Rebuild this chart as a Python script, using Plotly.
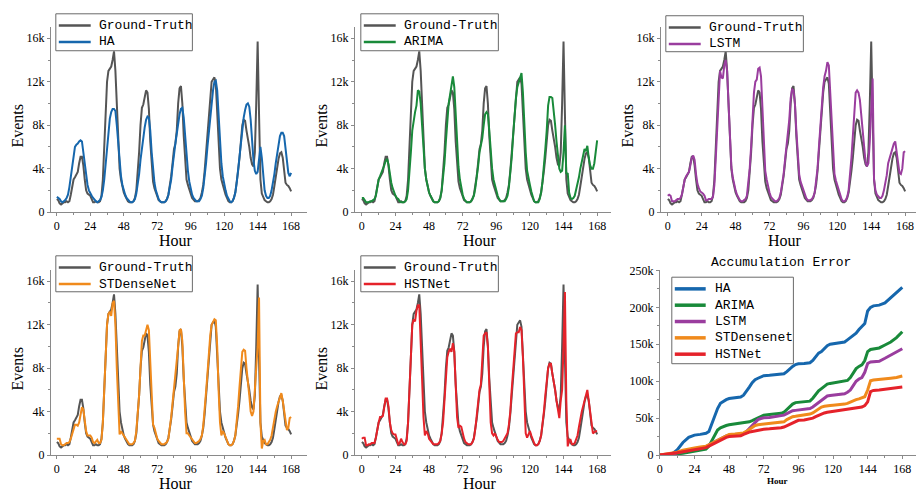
import plotly.graph_objects as go

hours = list(range(169))

ground_truth = [1.2,1.1,0.8,0.7,0.8,0.9,0.9,1.0,0.9,1.0,1.6,2.3,3.0,3.2,3.4,3.7,4.5,5.1,5.1,4.3,
3.0,2.0,1.7,1.6,1.5,1.2,0.9,0.9,1.0,0.9,0.9,1.0,1.5,3.0,6.0,9.5,12.0,13.0,13.2,13.4,
14.0,14.8,13.0,9.5,6.0,4.0,3.0,2.3,1.8,1.5,1.2,1.0,0.9,0.9,0.9,1.0,1.3,2.0,3.5,5.5,
8.0,9.6,9.9,10.5,11.2,11.0,9.5,6.5,4.0,2.8,2.2,1.8,1.4,1.1,1.0,0.9,0.9,0.9,1.0,1.2,
1.6,2.3,3.3,4.5,5.8,6.3,7.5,10.0,11.4,11.6,10.0,7.0,4.5,3.0,2.5,2.0,1.7,1.3,1.1,1.0,
1.0,1.0,1.1,1.3,1.8,2.5,3.8,5.5,7.5,9.5,11.0,12.0,12.2,12.4,11.8,9.5,6.5,4.0,3.0,2.5,
2.0,1.6,1.3,1.0,0.9,0.9,1.0,1.3,1.8,2.7,3.8,5.0,6.5,8.0,8.5,8.4,7.5,6.8,6.0,5.0,
4.4,4.2,5.5,10.0,15.7,9.0,3.0,1.7,1.3,1.1,1.0,0.9,0.9,1.0,1.2,1.6,2.4,3.3,4.2,4.9,
5.4,5.5,5.0,3.8,2.7,2.5,2.4,2.2,1.9]

ha = [1.4,1.3,1.2,1.0,0.9,1.0,1.1,1.3,1.6,2.3,3.3,4.5,5.5,6.0,6.2,6.3,6.5,6.6,6.5,5.5,
4.2,3.2,2.5,2.0,1.7,1.5,1.3,1.1,1.0,0.9,1.0,1.1,1.4,2.0,3.0,4.5,6.0,7.5,8.6,9.2,
9.5,9.5,9.3,8.0,6.2,4.5,3.3,2.5,2.0,1.6,1.3,1.1,1.0,0.9,0.9,1.0,1.2,1.7,2.5,3.5,
4.8,6.0,7.0,7.8,8.5,8.8,8.7,7.5,5.5,3.8,2.7,2.0,1.5,1.2,1.0,0.9,0.9,0.9,1.0,1.2,
1.6,2.2,3.0,4.2,5.5,6.3,7.2,8.2,9.0,9.5,9.6,8.7,7.0,5.2,3.8,2.8,2.1,1.6,1.3,1.1,
1.0,1.0,1.0,1.2,1.5,2.2,3.2,4.5,6.0,7.5,8.8,10.0,11.2,12.0,12.1,11.2,9.0,6.5,4.5,3.3,
2.5,2.0,1.5,1.2,1.0,0.9,1.0,1.3,1.8,2.7,4.0,5.3,6.5,7.7,8.7,9.4,9.9,10.0,9.7,8.5,
6.5,4.8,3.8,3.5,3.7,5.0,6.0,5.0,3.0,2.0,1.5,1.3,1.3,1.5,2.0,2.7,3.5,4.5,5.5,6.3,
7.0,7.3,7.3,7.0,6.0,4.6,3.6,3.3,3.6]

arima = [1.3,1.3,1.1,0.9,0.9,0.9,1.0,1.0,1.1,1.2,1.5,2.2,3.0,3.3,3.6,3.9,4.3,4.7,4.9,4.4,
3.5,2.7,2.2,1.8,1.5,1.3,1.2,1.0,0.9,0.9,0.9,1.0,1.2,2.0,3.5,5.5,7.5,8.6,9.2,9.8,
11.2,11.1,10.0,8.0,5.5,4.0,3.0,2.3,1.8,1.5,1.2,1.0,0.9,0.9,0.9,1.0,1.3,2.0,3.0,4.5,
6.5,8.7,10.0,10.8,11.8,12.5,11.5,9.0,6.0,4.2,3.0,2.2,1.6,1.2,1.0,0.9,0.9,0.9,1.0,1.2,
1.5,2.2,3.0,4.2,5.5,6.2,6.8,8.0,9.0,9.2,9.0,7.5,5.5,4.0,3.0,2.4,2.0,1.5,1.2,1.0,
1.0,1.0,1.0,1.2,1.5,2.3,3.5,5.0,7.0,9.0,10.5,11.5,12.0,12.5,12.8,11.0,8.0,5.5,3.8,3.0,
2.5,1.9,1.3,1.0,0.9,0.9,0.9,1.2,1.8,2.8,4.0,5.8,7.5,9.8,10.6,10.6,10.5,9.5,8.0,6.5,
5.0,4.0,3.7,3.8,5.5,8.0,3.5,3.6,1.8,1.3,1.2,1.3,1.5,2.0,2.5,3.2,4.0,4.7,5.3,5.8,
5.6,6.1,5.0,4.3,4.0,4.0,4.5,5.8,6.6]

lstm = [1.5,1.6,1.5,1.0,1.0,1.0,1.1,1.2,1.2,1.3,1.6,2.3,3.0,3.3,3.5,3.7,4.3,5.0,5.2,4.8,
3.5,2.6,2.2,1.9,1.8,1.7,1.5,1.1,1.1,1.2,1.2,1.2,1.4,2.5,5.0,8.0,11.0,13.0,12.4,12.3,
13.5,14.0,13.0,10.0,6.5,4.2,3.2,2.5,2.0,1.6,1.3,1.1,1.0,1.0,1.1,1.2,1.5,2.5,4.0,6.0,
8.5,11.0,12.0,12.2,13.2,13.3,12.5,9.0,5.5,3.8,3.0,2.3,1.8,1.4,1.2,1.1,1.0,1.0,1.1,1.3,
1.8,2.5,3.5,4.8,6.0,7.0,8.5,10.5,11.3,11.2,10.0,7.5,5.0,3.5,2.8,2.4,2.2,1.7,1.3,1.1,
1.1,1.1,1.2,1.4,1.8,2.7,4.0,6.0,8.0,10.0,11.5,12.5,13.0,13.8,13.5,11.0,8.0,5.0,3.5,2.9,
2.5,2.0,1.5,1.2,1.0,1.0,1.1,1.4,2.0,3.3,5.0,7.0,9.0,11.0,11.2,11.0,10.3,9.0,7.5,6.0,
4.6,4.2,4.5,6.5,9.5,12.3,3.0,2.0,1.6,1.4,1.3,1.3,1.5,2.0,2.6,3.4,4.5,5.0,5.5,6.0,
6.3,6.5,5.5,4.5,3.6,3.5,4.0,5.5,5.6]

stdensenet = [1.5,1.5,1.5,1.0,0.9,0.9,1.0,1.1,1.1,1.2,1.5,2.0,2.5,2.8,2.8,2.7,3.0,3.8,4.4,4.2,
3.0,2.2,1.8,1.8,1.8,1.6,1.2,1.1,1.3,1.4,1.1,1.1,1.4,3.0,6.0,9.0,12.0,13.0,13.2,12.8,
14.0,14.2,12.0,8.0,4.0,1.9,2.2,2.0,1.8,1.5,1.3,1.1,1.0,1.0,1.0,1.1,1.3,2.2,3.5,5.5,
8.0,10.5,11.0,11.0,11.5,12.0,11.5,8.0,4.5,2.8,2.5,2.0,1.5,1.3,1.1,1.0,1.0,1.0,1.1,1.2,
1.5,2.4,3.5,4.8,6.0,7.0,8.5,10.0,11.5,11.6,10.5,7.0,4.0,2.0,2.0,1.8,1.6,1.4,1.2,1.1,
1.1,1.2,1.3,1.5,1.8,2.7,4.0,5.8,7.5,9.5,11.0,12.0,12.3,12.5,12.4,10.0,6.0,3.0,1.8,2.2,
2.0,1.6,1.2,1.0,0.9,0.9,1.0,1.3,1.8,3.0,4.5,6.3,8.0,9.5,9.7,9.6,8.0,7.0,5.5,4.0,
3.6,4.0,6.0,7.0,10.0,14.5,3.0,0.6,1.3,1.4,1.0,1.0,1.2,1.4,1.8,2.6,3.5,4.0,4.5,4.9,
5.3,5.7,5.0,4.0,3.0,2.3,2.5,3.4,3.5]

hstnet = [1.5,1.6,1.6,0.9,0.9,1.0,1.0,1.1,1.1,1.1,1.6,2.4,3.0,3.5,3.5,3.6,4.5,5.2,5.2,4.5,
3.0,2.3,2.0,1.9,1.9,1.5,1.0,1.1,1.5,1.2,1.0,1.0,1.3,3.0,6.0,9.5,12.0,12.5,12.3,13.3,
13.8,13.8,11.0,7.0,3.5,1.8,2.2,2.0,1.5,1.3,1.2,1.0,1.0,1.0,1.0,1.1,1.3,2.0,3.0,5.0,
7.5,9.0,9.5,9.8,9.5,10.3,9.5,6.0,3.5,2.5,2.7,2.6,2.0,1.5,1.2,1.1,1.0,1.0,1.0,1.2,
1.5,2.4,3.5,4.8,6.0,6.5,8.5,11.0,11.2,11.3,10.0,6.0,3.0,2.0,1.8,2.0,1.6,1.4,1.2,1.2,
1.2,1.3,1.5,1.7,2.0,2.8,4.0,6.0,8.0,10.0,11.2,11.3,11.3,11.8,11.5,9.0,5.0,2.0,1.6,2.0,
2.2,1.8,1.4,1.1,0.9,0.9,1.0,1.3,1.8,2.8,4.0,5.5,7.0,8.0,8.4,8.4,7.5,6.8,6.0,5.0,
4.0,3.4,5.0,6.0,10.0,15.0,5.0,0.8,1.4,1.4,1.0,1.0,1.1,1.4,1.8,2.6,3.5,4.0,4.5,5.0,
5.5,6.0,5.0,4.0,3.0,2.0,2.1,2.2,2.2]

acc_hours = [0,4,8,12,16,20,24,28,32,34,36,38,40,42,44,46,48,52,56,58,60,62,64,66,68,70,72,
76,80,84,86,88,90,92,94,96,100,104,106,108,110,112,114,116,118,120,124,128,130,132,134,
136,138,140,142,144,146,148,152,156,160,164,168]

acc_ha = [0,0.3,1.0,7,17,24,27,28,29.5,32,42,52,63,70,73,75,76.5,77.5,78.5,81,86,92,98,102,
104,106,107.5,108,108.5,109,110,113,117,120,122.5,123.5,124,125,128,133,138,140,144,148,
150,150.5,151,153,156,159,161,165,170,174,178,195,200,202,203,206,213,220,227]
acc_arima = [0,0.2,0.5,1.5,2.5,4,5,6,8,12,20,28,34,37,39,40,41,42,42.5,43,43.5,45,46.5,48.5,
51,53,54,55,55.5,56.5,58,62,66,69,71,71.5,72,73,77,82,87,90,93,96,97,97.5,98.5,100,101,
105,111,117,120,122,128,140,143,144,145,149,153,159,167]
acc_lstm = [0,0.5,1,3,5,7,8,9,11,14,16,19,21,23,25,26,27,27.5,28,29,32,36,40,45,48,49.5,50.5,
51,52,53,54,56,58.5,60,60.5,61,62,63,65,68,71,75,78,80,80.5,81,82,83,85,88,94,100,103,
105,112,124,126,126.5,127,131,135,139,144]
acc_stdensenet = [0,1,2,4,6.5,8.5,9.5,11,12,14,16,19,21,23,25,27,28,28.5,29,30,32,35,38,40,41,
41.5,42,42.5,43,44,45,48,50,52,52.5,53,54,55.5,57,60,63,65,66,67,67.2,67.5,68,69,70,72,
74,75,76,77,79,88,100.5,101.5,102,103,104,105,107]
acc_hstnet = [0,0.7,1.5,3,4.5,6,7,8.5,10,12,14,17,19,21,22.5,24,25,25.5,26,28,30,31,32,33,34,
34.5,35,35.5,36,37,38,40,42,44,46,47,47.5,48.5,50,52,54,56,57,58,58.5,59,60,61,61.5,62,
62.5,63,64,65,67,72,86,87.5,88,88.5,90,91,92]

model_names = ["HA", "ARIMA", "LSTM", "STDenseNet", "HSTNet"]
acc_names = ["HA", "ARIMA", "LSTM", "STDensenet", "HSTNet"]
model_series = [ha, arima, lstm, stdensenet, hstnet]
acc_series = [acc_ha, acc_arima, acc_lstm, acc_stdensenet, acc_hstnet]
colors = ["#1667ad", "#198a3a", "#9a3d9e", "#f08a1c", "#e5222a"]
gt_color = "#555555"

ev_ticks = [0, 4000, 8000, 12000, 16000]
ev_ticktext = ["0", "4k", "8k", "12k", "16k"]
hour_ticks = [0, 24, 48, 72, 96, 120, 144, 168]
acc_ticks = [0, 50000, 100000, 150000, 200000, 250000]
acc_ticktext = ["0", "50k", "100k", "150k", "200k", "250k"]

W, H = 917, 499
SERIF = "Liberation Serif"
MONO = "Liberation Mono"
AXC = "#8a8a8a"


def px(x):
    return x / W


def py(y):
    return 1 - y / H


fig = go.Figure()

# panel geometry in pixels: (axis left, axis right, axis top, axis bottom, xrange)
panels = [
    (48, 305, 21, 211, [-4.3, 179.4]),
    (353, 610, 21, 211, [-5.0, 177.9]),
    (660, 916, 21, 211, [-4.9, 175.7]),
    (48, 305, 271, 461, [-4.3, 179.4]),
    (353, 610, 271, 461, [-5.0, 177.9]),
    (659, 916, 271, 461, [0, 177.5]),
]
# legend boxes: (left, top, right, bottom, first row centre, row step, line x0, line x1, text x, line width)
legend_boxes = [
    (53, 7, 190, 45, 19, 17, 56, 88, 94, 2.5),
    (359, 7, 497, 45, 19, 17, 362, 394, 400, 2.5),
    (665, 9, 803, 46, 21, 17, 668, 700, 706, 2.5),
    (53, 256, 190, 293, 268, 17, 56, 88, 94, 2.5),
    (359, 256, 497, 293, 268, 17, 362, 394, 400, 2.5),
    (671, 278, 793, 367, 290, 16.8, 674, 705, 712, 3.5),
]

layout = dict(
    width=W, height=H,
    margin=dict(l=0, r=0, t=0, b=0),
    paper_bgcolor="white", plot_bgcolor="white",
    showlegend=False,
    annotations=[],
    shapes=[],
)

for i, (l, r, t, b, xr) in enumerate(panels):
    k = "" if i == 0 else str(i + 1)
    xa = dict(
        domain=[px(l), px(r)], range=xr, anchor="y" + k,
        showline=True, linecolor=AXC, linewidth=1,
        ticks="outside", ticklen=3, tickcolor=AXC,
        tickvals=hour_ticks, ticktext=[str(v) for v in hour_ticks],
        tickfont=dict(family=SERIF, size=12, color="black"),
        minor=dict(tickvals=[12, 36, 60, 84, 108, 132, 156], ticks="outside", ticklen=2, tickcolor=AXC),
        showgrid=False, zeroline=False, fixedrange=True,
    )
    ya = dict(
        domain=[py(b), py(t)], anchor="x" + k,
        showline=True, linecolor=AXC, linewidth=1,
        ticks="outside", ticklen=3, tickcolor=AXC,
        tickfont=dict(family=SERIF, size=12, color="black"),
        showgrid=False, zeroline=False, fixedrange=True,
    )
    if i < 5:
        ya.update(range=[0, 17000], tickvals=ev_ticks, ticktext=ev_ticktext,
                  minor=dict(tickvals=[2000, 6000, 10000, 14000], ticks="outside", ticklen=2, tickcolor=AXC))
    else:
        ya.update(range=[0, 250000], tickvals=acc_ticks, ticktext=acc_ticktext,
                  minor=dict(tickvals=[25000, 75000, 125000, 175000, 225000], ticks="outside", ticklen=2, tickcolor=AXC))
    layout["xaxis" + k] = xa
    layout["yaxis" + k] = ya

    if i < 5:
        layout["annotations"].append(dict(
            text="Events", xref="paper", yref="paper",
            x=px(l - 33), y=py((t + b) / 2 + 6), showarrow=False, textangle=-90,
            font=dict(family=SERIF, size=16, color="black"), xanchor="center", yanchor="middle"))
        layout["annotations"].append(dict(
            text="Hour", xref="paper", yref="paper",
            x=px((l + r) / 2 - 3), y=py(b + 29), showarrow=False,
            font=dict(family=SERIF, size=16, color="black"), xanchor="center", yanchor="middle"))
    else:
        layout["annotations"].append(dict(
            text="<b>Hour</b>", xref="paper", yref="paper",
            x=px((l + r) / 2 - 10), y=py(b + 27), showarrow=False,
            font=dict(family=SERIF, size=9, color="black"), xanchor="center", yanchor="middle"))
        layout["annotations"].append(dict(
            text="Accumulation Error", xref="paper", yref="paper",
            x=px(781), y=py(263), showarrow=False,
            font=dict(family=MONO, size=13, color="black"), xanchor="center", yanchor="middle"))

# legends drawn as boxes, line samples and text
legend_entries = []
for i in range(5):
    legend_entries.append([("Ground-Truth", gt_color), (model_names[i], colors[i])])
legend_entries.append([(acc_names[j], colors[j]) for j in range(5)])

for i, entries in enumerate(legend_entries):
    lx0, ly0, lx1, ly1, c0, step, sx0, sx1, tx, lw = legend_boxes[i]
    layout["shapes"].append(dict(
        type="rect", xref="paper", yref="paper", x0=px(lx0), x1=px(lx1), y0=py(ly1), y1=py(ly0),
        fillcolor="white", line=dict(color="#6a6a6a", width=1), layer="above"))
    for j, (name, col) in enumerate(entries):
        yc = c0 + j * step
        layout["shapes"].append(dict(
            type="line", xref="paper", yref="paper", x0=px(sx0), x1=px(sx1), y0=py(yc), y1=py(yc),
            line=dict(color=col, width=lw), layer="above"))
        layout["annotations"].append(dict(
            text=name, xref="paper", yref="paper", x=px(tx), y=py(yc), showarrow=False,
            xanchor="left", yanchor="middle", font=dict(family=MONO, size=13, color="black")))

for i in range(5):
    k = "" if i == 0 else str(i + 1)
    fig.add_trace(go.Scatter(
        x=hours, y=[v * 1000 for v in ground_truth], mode="lines", name="Ground-Truth",
        line=dict(color=gt_color, width=2), xaxis="x" + k, yaxis="y" + k))
    fig.add_trace(go.Scatter(
        x=hours, y=[v * 1000 for v in model_series[i]], mode="lines", name=model_names[i],
        line=dict(color=colors[i], width=2), xaxis="x" + k, yaxis="y" + k))

for i in range(5):
    fig.add_trace(go.Scatter(
        x=acc_hours, y=[v * 1000 for v in acc_series[i]], mode="lines", name=acc_names[i],
        line=dict(color=colors[i], width=3), xaxis="x6", yaxis="y6"))

fig.update_layout(**layout)
fig.write_html("out.html")
